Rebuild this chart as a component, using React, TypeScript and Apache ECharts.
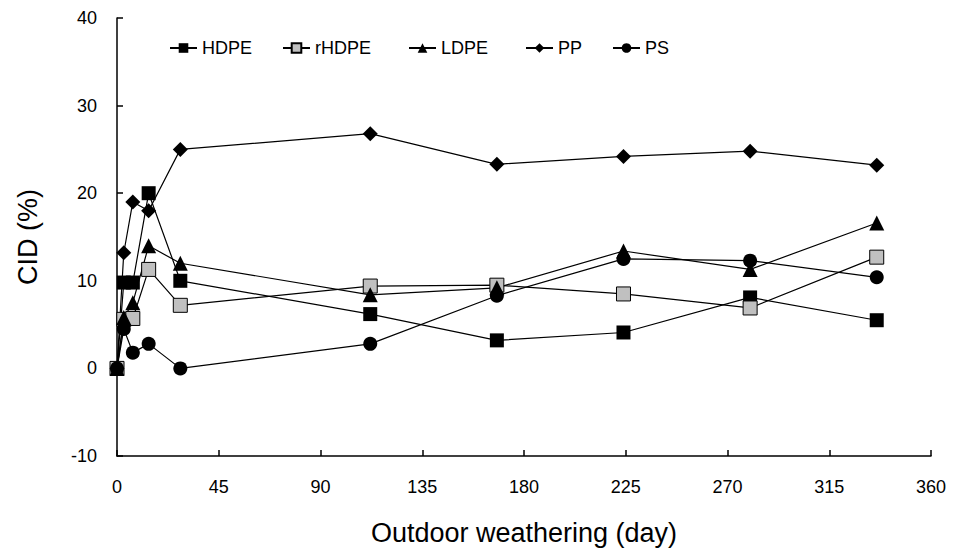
import React, { useEffect, useRef } from "react";
import * as echarts from "echarts";

const days = [0, 3, 7, 14, 28, 112, 168, 224, 280, 336];
const hdpe = [0, 9.8, 9.8, 20, 10, 6.2, 3.2, 4.1, 8.1, 5.5];
const rhdpe = [0, 5.6, 5.7, 11.3, 7.2, 9.4, 9.5, 8.5, 6.9, 12.7];
const ldpe = [0, 5.8, 7.5, 14, 12, 8.4, 9.2, 13.4, 11.3, 16.6];
const pp = [0, 13.2, 19, 18, 25, 26.8, 23.3, 24.2, 24.8, 23.2];
const ps = [0, 4.5, 1.8, 2.8, 0, 2.8, 8.3, 12.5, 12.3, 10.4];

const seriesNames = ["HDPE", "rHDPE", "LDPE", "PP", "PS"];
const legendLefts = [164, 277, 403, 520, 607];

const FONT = "'Liberation Sans', Arial, sans-serif";

export default function App() {
  const ref = useRef<HTMLDivElement>(null);
  useEffect(() => {
    if (!ref.current) return;
    const chart = echarts.init(ref.current, null, { renderer: "svg" });
    const mk = (name: string, vals: number[], symbol: string, size: number, fill: string) => ({
      name,
      type: "line",
      data: days.map((d, i) => [d, vals[i]]),
      symbol,
      symbolSize: size,
      showAllSymbol: true,
      lineStyle: { color: "#000", width: 1.2 },
      itemStyle: { color: fill, borderColor: "#000", borderWidth: fill === "#000" ? 0 : 1, opacity: 1 },
      emphasis: { disabled: true },
      z: 2,
    });
    const option: any = {
      animation: false,
      backgroundColor: "#fff",
      textStyle: { fontFamily: FONT },
      legend: seriesNames.map((n, i) => ({
        data: [n],
        left: legendLefts[i],
        top: 34,
        itemWidth: 27,
        itemHeight: 12,
        itemGap: 5,
        textStyle: { fontSize: 18, color: "#000", fontFamily: FONT },
        selectedMode: false,
      })),
      grid: { left: 117, right: 22, top: 18, bottom: 89, containLabel: false },
      xAxis: {
        type: "value",
        min: 0,
        max: 360,
        interval: 45,
        name: "Outdoor weathering (day)",
        nameLocation: "middle",
        nameGap: 63,
        nameTextStyle: { fontSize: 27, color: "#000", fontFamily: FONT },
        axisLine: { show: true, onZero: false, lineStyle: { color: "#000", width: 1.5 } },
        axisTick: { show: true, inside: true, length: 6, lineStyle: { color: "#000", width: 1.5 } },
        axisLabel: { fontSize: 18, color: "#000", margin: 22, fontFamily: FONT },
        splitLine: { show: false },
      },
      yAxis: {
        type: "value",
        min: -10,
        max: 40,
        interval: 10,
        name: "CID (%)",
        nameLocation: "middle",
        nameGap: 76,
        nameTextStyle: { fontSize: 27, color: "#000", fontFamily: FONT },
        axisLine: { show: true, onZero: false, lineStyle: { color: "#000", width: 1.5 } },
        axisTick: { show: true, inside: true, length: 6, lineStyle: { color: "#000", width: 1.5 } },
        axisLabel: { fontSize: 18, color: "#000", margin: 20, fontFamily: FONT },
        splitLine: { show: false },
      },
      series: [
        mk("HDPE", hdpe, "rect", 14, "#000"),
        mk("rHDPE", rhdpe, "rect", 14, "#c0c0c0"),
        mk("LDPE", ldpe, "triangle", 15, "#000"),
        mk("PP", pp, "diamond", 15, "#000"),
        mk("PS", ps, "circle", 14, "#000"),
      ],
    };
    chart.setOption(option);
    return () => chart.dispose();
  }, []);
  return (
    <div
      ref={ref}
      style={{ position: "fixed", left: 0, top: 0, width: 953, height: 551 }}
    />
  );
}
